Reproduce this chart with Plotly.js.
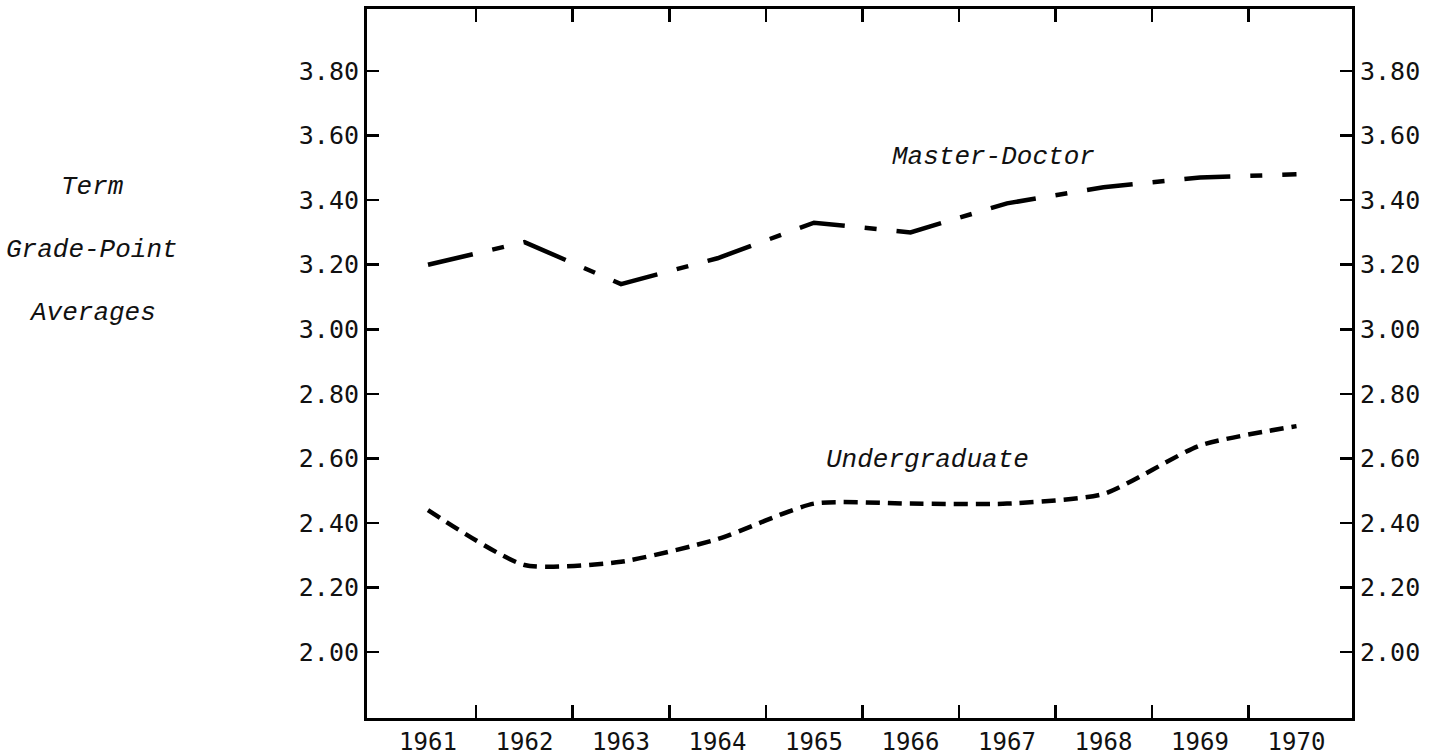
<!DOCTYPE html>
<html>
<head>
<meta charset="utf-8">
<script src="https://cdn.plot.ly/plotly-3.0.1.min.js"></script>
<style>
  html, body { margin: 0; padding: 0; background: #ffffff; }
  #chart { width: 1436px; height: 756px; }
</style>
</head>
<body>
<div id="chart"></div>
<script>
// ---- data ----
var years = [1961, 1962, 1963, 1964, 1965, 1966, 1967, 1968, 1969, 1970];
var masterDoctor = [3.20, 3.27, 3.14, 3.22, 3.33, 3.30, 3.39, 3.44, 3.47, 3.48];
var undergraduate = [2.44, 2.27, 2.28, 2.35, 2.46, 2.46, 2.46, 2.49, 2.64, 2.70];
var yTicks = [2.00, 2.20, 2.40, 2.60, 2.80, 3.00, 3.20, 3.40, 3.60, 3.80];
var yTitleLines = ["Term", "Grade-Point", "Averages"];
var seriesLabels = ["Master-Doctor", "Undergraduate"];

// ---- style ----
var numFont = { family: "DejaVu Sans Mono, monospace", size: 25, color: "#111111" };
var yearFont = { family: "DejaVu Sans Mono, monospace", size: 24, color: "#111111" };
var italicFont = { family: "Liberation Mono, Courier New, monospace", size: 26, color: "#111111" };
var yRange = [1.796, 3.992];
var xRange = [1960.368, 1970.575];
var boundaries = years.slice(1).map(function (y) { return y - 0.5; });
var yTickText = yTicks.map(function (v) { return v.toFixed(2); });

var traces = [
  {
    x: years, y: masterDoctor, type: "scatter", mode: "lines",
    name: seriesLabels[0],
    line: { color: "#000000", width: 4.5, dash: "46px,20px,12px,20px" },
    xaxis: "x", yaxis: "y", hoverinfo: "x+y"
  },
  {
    x: years, y: undergraduate, type: "scatter", mode: "lines",
    name: seriesLabels[1],
    line: { color: "#000000", width: 4.5, dash: "14px,8px", shape: "spline", smoothing: 0.6 },
    xaxis: "x2", yaxis: "y2", hoverinfo: "x+y"
  }
];

var yTitleY = [0.749, 0.660, 0.571];
var annotations = yTitleLines.map(function (t, i) {
  return {
    text: "<i>" + t + "</i>", xref: "paper", yref: "paper", x: -0.279, y: yTitleY[i],
    xanchor: "center", yanchor: "middle", showarrow: false,
    font: italicFont
  };
});
annotations.push({
  text: "<i>" + seriesLabels[0] + "</i>", xref: "paper", yref: "paper",
  x: 0.6365, y: 0.791, xanchor: "center", yanchor: "middle",
  showarrow: false, font: italicFont
});
annotations.push({
  text: "<i>" + seriesLabels[1] + "</i>", xref: "paper", yref: "paper",
  x: 0.5695, y: 0.364, xanchor: "center", yanchor: "middle",
  showarrow: false, font: italicFont
});

var minorTicks = { tickmode: "array", tickvals: boundaries, ticks: "inside",
                   ticklen: 13, tickwidth: 2.5, tickcolor: "#000000", showgrid: false };

var layout = {
  width: 1436, height: 756,
  margin: { l: 367, r: 84, t: 9, b: 38, pad: 0 },
  paper_bgcolor: "#ffffff", plot_bgcolor: "#ffffff",
  showlegend: false,
  xaxis: {
    type: "linear", range: xRange, fixedrange: true, anchor: "y",
    tickmode: "array", tickvals: years, ticktext: years.map(String),
    ticks: "", showgrid: false, zeroline: false,
    showline: true, linecolor: "#000000", linewidth: 3,
    tickfont: yearFont,
    minor: minorTicks
  },
  xaxis2: {
    type: "linear", range: xRange, fixedrange: true, overlaying: "x", side: "top", anchor: "y2",
    tickmode: "array", tickvals: years, showticklabels: false,
    ticks: "", showgrid: false, zeroline: false,
    showline: true, linecolor: "#000000", linewidth: 3,
    minor: minorTicks
  },
  yaxis: {
    range: yRange, fixedrange: true, anchor: "x",
    tickmode: "array", tickvals: yTicks, ticktext: yTickText,
    ticks: "inside", ticklen: 12, tickwidth: 2.5, tickcolor: "#000000",
    showgrid: false, zeroline: false,
    showline: true, linecolor: "#000000", linewidth: 3,
    tickfont: numFont
  },
  yaxis2: {
    range: yRange, fixedrange: true, overlaying: "y", side: "right", anchor: "x2",
    tickmode: "array", tickvals: yTicks, ticktext: yTickText,
    ticks: "inside", ticklen: 12, tickwidth: 2.5, tickcolor: "#000000",
    showgrid: false, zeroline: false,
    showline: true, linecolor: "#000000", linewidth: 3,
    tickfont: numFont
  },
  annotations: annotations
};

Plotly.newPlot("chart", traces, layout, { displayModeBar: false, staticPlot: true });
</script>
</body>
</html>
